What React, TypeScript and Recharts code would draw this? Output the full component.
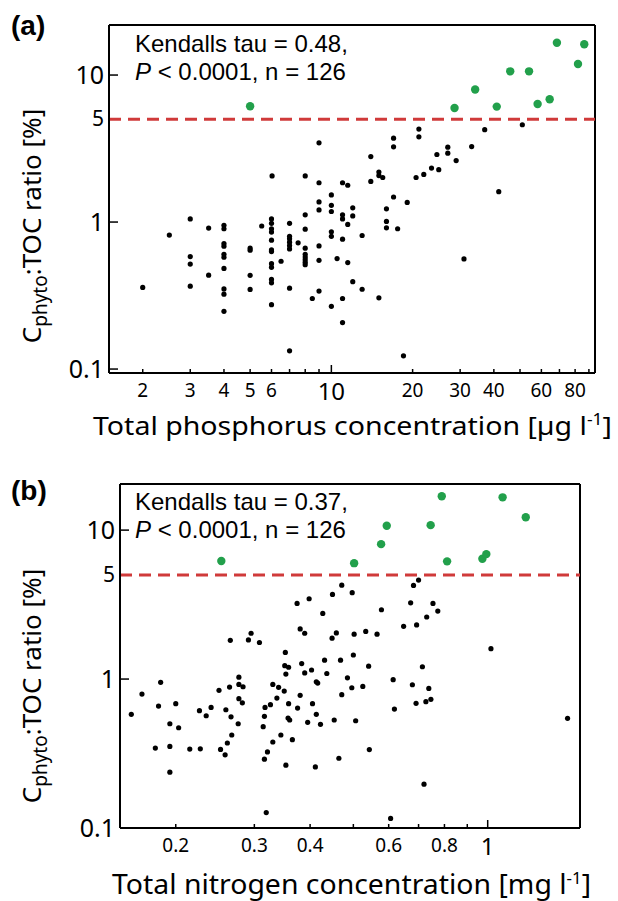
import React from 'react';
import { ReferenceLine, Scatter, ScatterChart, XAxis, YAxis } from 'recharts';

// Cphyto:TOC ratio (%) against total phosphorus (µg/l) and total nitrogen (mg/l)
const tpBelow: [number, number][] = [
  [2.0, 0.359], [2.51, 0.815], [3.0, 1.05], [3.0, 0.582], [3.0, 0.518], [3.0, 0.366], [3.51, 0.91], [3.51, 0.435],
  [4.0, 0.95], [4.0, 0.9], [4.0, 0.714], [4.0, 0.685], [4.0, 0.604], [4.0, 0.576], [4.0, 0.484], [4.0, 0.351],
  [4.0, 0.323], [4.0, 0.247], [5.0, 0.664], [5.0, 0.643], [5.0, 0.434], [5.0, 0.348], [5.52, 0.94],
  [6.0, 1.05], [6.0, 0.98], [6.0, 0.9], [6.0, 0.855], [6.0, 0.753], [6.0, 0.646], [6.0, 0.63], [6.0, 0.521],
  [6.0, 0.492], [6.0, 0.407], [6.0, 0.386], [6.0, 0.274], [6.03, 2.06], [6.51, 0.541],
  [7.0, 0.98], [7.0, 0.8], [7.0, 0.769], [7.0, 0.73], [7.0, 0.692], [7.0, 0.656], [7.0, 0.355], [7.0, 0.133], [7.53, 0.722],
  [8.0, 2.06], [8.0, 1.12], [8.0, 0.895], [8.0, 0.664], [8.0, 0.604], [8.0, 0.578], [8.0, 0.555], [8.0, 0.532],
  [8.0, 0.513], [8.5, 0.302], [9.0, 3.46], [9.0, 1.85], [9.0, 1.37], [9.0, 1.21], [9.0, 0.688], [9.0, 0.549], [9.0, 0.339],
  [10, 1.53], [10, 1.3], [10, 1.18], [10, 0.859], [10, 0.8], [10, 0.267], [10.5, 0.564],
  [11, 1.85], [11, 1.12], [11, 1.05], [11, 0.765], [11, 0.302], [11, 0.207], [11.5, 1.78], [11.5, 0.964], [11.5, 0.53],
  [12, 1.25], [12, 1.1], [12, 0.393], [13, 0.81], [13, 0.349], [14, 2.79], [14, 1.89], [15, 2.19], [15, 2.07],
  [15, 0.305], [15.5, 2.01], [16, 1.23], [16, 1.01], [16, 0.914], [17, 3.72], [17, 3.25], [17, 1.48], [17.6, 0.9],
  [18.5, 0.123], [19.1, 1.36], [20.6, 2.01], [21.1, 4.29], [21.1, 3.8], [22, 2.11], [23.5, 2.33], [24.6, 2.88],
  [25, 2.27], [27, 3.23], [27, 2.94], [29, 2.62], [31, 0.561], [33.1, 3.26], [37, 4.25], [41.7, 1.61], [51, 4.59],
];
const tpAbove: [number, number][] = [
  [5.0, 6.13], [28.6, 5.97], [34.1, 7.98], [41.0, 6.1], [46, 10.6], [54, 10.6],
  [58.1, 6.36], [64.4, 6.85], [68.5, 16.6], [82, 11.9], [86.5, 16.2],
];

const tnBelow: [number, number][] = [
  [0.265, 1.82], [0.291, 1.83], [0.295, 2.03], [0.308, 1.76], [0.374, 3.22], [0.398, 3.46], [0.38, 2.17],
  [0.389, 2.03], [0.427, 2.76], [0.449, 3.7], [0.471, 4.27], [0.497, 3.8], [0.448, 1.88], [0.458, 2.04], [0.502, 2.0],
  [0.578, 2.92], [0.533, 2.09], [0.565, 2.0], [0.682, 4.25], [0.7, 4.62], [0.672, 3.25], [0.754, 3.22], [0.773, 2.86],
  [0.648, 2.26], [0.693, 2.31], [0.73, 2.61], [1.017, 1.6],
  [0.159, 0.58], [0.168, 0.793], [0.185, 0.951], [0.183, 0.659], [0.18, 0.344], [0.194, 0.501], [0.194, 0.353],
  [0.194, 0.237], [0.2, 0.683], [0.203, 0.471], [0.215, 0.339], [0.227, 0.34], [0.226, 0.613], [0.234, 0.567],
  [0.24, 0.645], [0.25, 0.84], [0.252, 0.337], [0.258, 0.31], [0.259, 0.622], [0.261, 0.372], [0.264, 0.884],
  [0.266, 0.558], [0.267, 0.421], [0.277, 1.03], [0.277, 0.921], [0.283, 0.888], [0.277, 0.738], [0.282, 0.693],
  [0.276, 0.501], [0.314, 0.479], [0.316, 0.562], [0.317, 0.645], [0.316, 0.29], [0.321, 0.324], [0.319, 0.127],
  [0.326, 0.673], [0.33, 0.921], [0.337, 0.745], [0.34, 0.88], [0.33, 0.378], [0.344, 0.421], [0.35, 0.83],
  [0.352, 1.51], [0.351, 1.23], [0.358, 1.2], [0.353, 1.08], [0.358, 0.683], [0.357, 0.547], [0.36, 0.531],
  [0.353, 0.264], [0.365, 0.392], [0.375, 0.639], [0.38, 0.778], [0.383, 1.27], [0.389, 1.1], [0.395, 0.512],
  [0.403, 1.15], [0.405, 0.683], [0.411, 0.257], [0.413, 0.959], [0.416, 0.94], [0.413, 0.58], [0.422, 0.497],
  [0.431, 1.34], [0.436, 1.09], [0.468, 1.34], [0.485, 1.02], [0.496, 0.874], [0.471, 0.785], [0.453, 0.531],
  [0.464, 0.294], [0.5, 1.45], [0.506, 0.525],
  [0.541, 1.22], [0.525, 0.893], [0.543, 0.336], [0.614, 0.99], [0.618, 0.629], [0.606, 0.116], [0.678, 0.916],
  [0.714, 1.21], [0.738, 0.865], [0.691, 0.687], [0.727, 0.705], [0.746, 0.731], [0.72, 0.197], [1.51, 0.545],
];
const tnAbove: [number, number][] = [
  [0.253, 6.2], [0.502, 6.0], [0.577, 8.05], [0.594, 10.7], [0.745, 10.8], [0.789, 16.9],
  [0.811, 6.17], [0.973, 6.42], [0.993, 6.9], [1.08, 16.6], [1.217, 12.2],
];

const THRESHOLD = 5;
const Y_TICKS = [0.1, 1, 5, 10];
const TP_TICKS = [2, 3, 4, 5, 6, 7, 8, 9, 10, 20, 30, 40, 50, 60, 70, 80, 90];
const TP_LABELS = [2, 3, 4, 5, 6, 10, 20, 30, 40, 60, 80];
const TN_TICKS = [0.2, 0.3, 0.4, 0.5, 0.6, 0.7, 0.8, 0.9, 1];
const TN_LABELS = [0.2, 0.3, 0.4, 0.6, 0.8, 1];

const GREEN = '#22a04b';
const RED = '#d03a3a';
const NUM_FONT = '"Noto Sans", sans-serif';
const TXT_FONT = '"Liberation Sans", Arial, sans-serif';

const toPoints = (rows: [number, number][]) => rows.map(([x, y]) => ({ x, y }));

function XTick({ x, y, payload, labels, major }: any) {
  const v = payload.value;
  const big = v === major;
  return (
    <g>
      <line x1={x} x2={x} y1={y} y2={y - (big ? 8 : 4)} stroke="#000" strokeWidth={1.5} />
      {labels.includes(v) && (
        <text x={x} y={y + (big ? 27 : 24)} textAnchor="middle" fontFamily={NUM_FONT} fontSize={big ? 24 : 19} fill="#000">
          {v}
        </text>
      )}
    </g>
  );
}

function YTick({ x, y, payload }: any) {
  const v = payload.value;
  const small = v === THRESHOLD;
  return (
    <g>
      {!small && <line x1={x} x2={x + 9} y1={y} y2={y} stroke="#000" strokeWidth={1.5} />}
      <text x={x - 5} y={y + (small ? 7 : 9)} textAnchor="end" fontFamily={NUM_FONT} fontSize={small ? 21 : 25} fill="#000">
        {v}
      </text>
    </g>
  );
}

interface PanelProps {
  top: number;
  height: number;
  plot: { left: number; right: number; top: number; bottom: number };
  xDomain: [number, number];
  yDomain: [number, number];
  xTicks: number[];
  xLabels: number[];
  major: number;
  below: [number, number][];
  above: [number, number][];
}

function Panel({ top, height, plot, xDomain, yDomain, xTicks, xLabels, major, below, above }: PanelProps) {
  return (
    <div style={{ position: 'absolute', left: 0, top }}>
      <ScatterChart
        width={618}
        height={height}
        margin={{ top: plot.top - top, right: 618 - plot.right, left: 0, bottom: 0 }}
      >
        <XAxis
          dataKey="x"
          type="number"
          scale="log"
          domain={xDomain}
          allowDataOverflow
          ticks={xTicks}
          interval={0}
          height={height - (plot.bottom - top)}
          tickSize={0}
          tickMargin={0}
          tickLine={false}
          axisLine={{ stroke: '#000', strokeWidth: 2 }}
          tick={<XTick labels={xLabels} major={major} />}
        />
        <YAxis
          dataKey="y"
          type="number"
          scale="log"
          domain={yDomain}
          allowDataOverflow
          ticks={Y_TICKS}
          interval={0}
          width={plot.left}
          tickSize={0}
          tickMargin={0}
          tickLine={false}
          axisLine={{ stroke: '#000', strokeWidth: 2 }}
          tick={<YTick />}
        />
        <ReferenceLine x={xDomain[1]} stroke="#000" strokeWidth={2} />
        <ReferenceLine y={yDomain[1]} stroke="#000" strokeWidth={2} />
        <ReferenceLine y={THRESHOLD} stroke={RED} strokeWidth={3} strokeDasharray="12 7" />
        <Scatter
          data={toPoints(below)}
          isAnimationActive={false}
          shape={(p: any) => <circle cx={p.cx} cy={p.cy} r={2.6} fill="#000" />}
        />
        <Scatter
          data={toPoints(above)}
          isAnimationActive={false}
          shape={(p: any) => <circle cx={p.cx} cy={p.cy} r={4.2} fill={GREEN} />}
        />
      </ScatterChart>
    </div>
  );
}

function YTitle({ cx, cy }: { cx: number; cy: number }) {
  return (
    <text transform={`translate(${cx}, ${cy}) rotate(-90)`} textAnchor="middle" fontFamily={NUM_FONT} fontSize={26} fill="#000">
      C<tspan dy={6} fontSize={19}>phyto</tspan>
      <tspan dy={-6}>:TOC ratio [%]</tspan>
    </text>
  );
}

function Stats({ x, y, tau }: { x: number; y: number; tau: string }) {
  return (
    <g fontFamily={TXT_FONT} fontSize={24} fill="#000">
      <text x={x} y={y}>Kendalls tau = {tau},</text>
      <text x={x} y={y + 28}>
        <tspan fontStyle="italic">P</tspan> &lt; 0.0001, n = 126
      </text>
    </g>
  );
}

export default function App() {
  return (
    <div style={{ position: 'absolute', left: 0, top: 0, width: 618, height: 901, background: '#fff' }}>
      <Panel
        top={0}
        height={450}
        plot={{ left: 109, right: 595, top: 25, bottom: 373 }}
        xDomain={[1.5, 94.8]}
        yDomain={[0.094, 21.9]}
        xTicks={TP_TICKS}
        xLabels={TP_LABELS}
        major={10}
        below={tpBelow}
        above={tpAbove}
      />
      <Panel
        top={450}
        height={451}
        plot={{ left: 120, right: 580, top: 484, bottom: 828 }}
        xDomain={[0.15, 1.61]}
        yDomain={[0.1, 20.4]}
        xTicks={TN_TICKS}
        xLabels={TN_LABELS}
        major={1}
        below={tnBelow}
        above={tnAbove}
      />
      <svg width={618} height={901} style={{ position: 'absolute', left: 0, top: 0, pointerEvents: 'none' }}>
        <text x={11} y={35} fontFamily={TXT_FONT} fontWeight="bold" fontSize={28} fill="#000">(a)</text>
        <text x={11} y={500} fontFamily={TXT_FONT} fontWeight="bold" fontSize={28} fill="#000">(b)</text>
        <Stats x={135} y={52} tau="0.48" />
        <Stats x={135} y={510} tau="0.37" />
        <text x={93} y={435} textLength={519} lengthAdjust="spacingAndGlyphs" fontFamily={NUM_FONT} fontSize={26} fill="#000">
          Total phosphorus concentration [µg l<tspan dy={-10} fontSize={16}>-1</tspan><tspan dy={10}>]</tspan>
        </text>
        <text x={112} y={894} textLength={479} lengthAdjust="spacingAndGlyphs" fontFamily={NUM_FONT} fontSize={27} fill="#000">
          Total nitrogen concentration [mg l<tspan dy={-10} fontSize={16}>-1</tspan><tspan dy={10}>]</tspan>
        </text>
        <YTitle cx={41} cy={226} />
        <YTitle cx={41} cy={686} />
      </svg>
    </div>
  );
}
